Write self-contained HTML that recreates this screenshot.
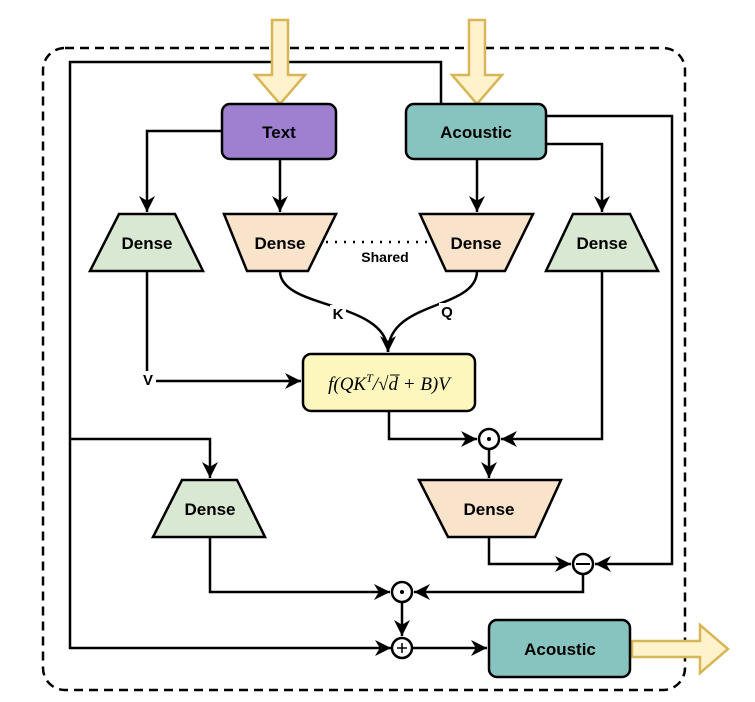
<!DOCTYPE html>
<html><head><meta charset="utf-8"><style>
html,body{margin:0;padding:0;background:#fff;width:755px;height:702px;overflow:hidden}
text{font-family:"Liberation Sans",sans-serif;font-weight:bold}
</style></head><body>
<svg width="755" height="702" viewBox="0 0 755 702" xmlns="http://www.w3.org/2000/svg">
<defs>
<marker id="b" viewBox="0 0 10 10" refX="10" refY="5" markerWidth="16" markerHeight="16" orient="auto" markerUnits="userSpaceOnUse">
<path d="M0,0 L10,5 L0,10 L3,5 Z" fill="#000"/></marker>
</defs>
<rect x="43" y="48" width="642" height="642" rx="22" fill="none" stroke="#000" stroke-width="2.5" stroke-dasharray="9,6"/>
<g fill="none" stroke="#000" stroke-width="2.5">
<path d="M441,103 V62 H70 V648 H391" marker-end="url(#b)"/>
<path d="M70,439 H210 V478" marker-end="url(#b)"/>
<path d="M222,131 H147 V212" marker-end="url(#b)"/>
<path d="M280,159 V212" marker-end="url(#b)"/>
<path d="M477,159 V212" marker-end="url(#b)"/>
<path d="M546,144 H602 V212" marker-end="url(#b)"/>
<path d="M546,116 H672 V564 H595" marker-end="url(#b)"/>
<path d="M280,271 C280,310 388,300 388,352" marker-end="url(#b)"/>
<path d="M477,271 C477,310 388,300 388,352"/>
<path d="M147,271 V381 H301" marker-end="url(#b)"/>
<path d="M389,411 V439 H477" marker-end="url(#b)"/>
<path d="M602,271 V439 H501" marker-end="url(#b)"/>
<path d="M489,450 V478" marker-end="url(#b)"/>
<path d="M489,537 V564 H571" marker-end="url(#b)"/>
<path d="M583,575 V592 H414" marker-end="url(#b)"/>
<path d="M210,537 V592 H390" marker-end="url(#b)"/>
<path d="M402,603 V636" marker-end="url(#b)"/>
<path d="M413,648 H487" marker-end="url(#b)"/>
</g>
<line x1="326" y1="242" x2="427" y2="242" stroke="#000" stroke-width="2.5" stroke-dasharray="2,7"/>
<path d="M272,20 H288 V75 H305 L280,104 L255,75 H272 Z" fill="#fff2cc" stroke="#d6b656" stroke-width="2.5"/>
<path d="M469,20 H485 V75 H502 L477,104 L452,75 H469 Z" fill="#fff2cc" stroke="#d6b656" stroke-width="2.5"/>
<path d="M632,641 H700 V625 L728,649 L700,673 V657 H632 Z" fill="#fff2cc" stroke="#d6b656" stroke-width="2.5"/>
<rect x="222" y="104" width="114" height="55" rx="8" fill="#9f7fcf" stroke="#000" stroke-width="2.5"/>
<text x="279" y="138" font-size="17" text-anchor="middle">Text</text>
<rect x="406" y="104" width="140" height="55" rx="8" fill="#88c4bf" stroke="#000" stroke-width="2.5"/>
<text x="476" y="138" font-size="17" text-anchor="middle">Acoustic</text>
<rect x="489" y="620" width="141" height="57" rx="8" fill="#88c4bf" stroke="#000" stroke-width="2.5"/>
<text x="560" y="655" font-size="17" text-anchor="middle">Acoustic</text>
<rect x="303" y="354" width="172" height="57" rx="8" fill="#fdf7bd" stroke="#000" stroke-width="2.5"/>
<text x="389" y="390" font-size="19" text-anchor="middle" style="font-family:'Liberation Serif',serif;font-weight:normal;font-style:italic">f(QK<tspan font-size="12" dy="-8">T</tspan><tspan dy="8">/√d̅ + B)V</tspan></text>
<g stroke="#000" stroke-width="2.5">
<path d="M119,214 H175 L203,271 H90 Z" fill="#d9e8d3"/>
<path d="M573,214 H630 L658,271 H546 Z" fill="#d9e8d3"/>
<path d="M182,480 H237 L265,537 H153 Z" fill="#d9e8d3"/>
<path d="M224,214 H336 L308,271 H247 Z" fill="#f9e4cb"/>
<path d="M420,214 H533 L505,271 H446 Z" fill="#f9e4cb"/>
<path d="M419,480 H561 L535,537 H448 Z" fill="#f9e4cb"/>
</g>
<g font-size="17" text-anchor="middle">
<text x="147" y="249">Dense</text>
<text x="280" y="249">Dense</text>
<text x="476" y="249">Dense</text>
<text x="602" y="249">Dense</text>
<text x="210" y="515">Dense</text>
<text x="489" y="515">Dense</text>
</g>
<text x="385" y="262" font-size="14" text-anchor="middle">Shared</text>
<rect x="330" y="305" width="16" height="16" fill="#fff"/>
<text x="338" y="319" font-size="15" text-anchor="middle">K</text>
<rect x="439" y="303" width="16" height="16" fill="#fff"/>
<text x="447" y="317" font-size="15" text-anchor="middle">Q</text>
<rect x="140" y="371" width="16" height="18" fill="#fff"/>
<text x="148" y="385" font-size="15" text-anchor="middle">V</text>
<g fill="#fff" stroke="#000" stroke-width="2.5">
<circle cx="489" cy="439" r="10"/><circle cx="583" cy="564" r="10"/>
<circle cx="402" cy="592" r="10"/><circle cx="402" cy="648" r="10"/>
</g>
<circle cx="489" cy="439" r="2" fill="#000"/>
<circle cx="402" cy="592" r="2" fill="#000"/>
<line x1="576" y1="564" x2="590" y2="564" stroke="#000" stroke-width="2"/>
<line x1="397" y1="648" x2="407" y2="648" stroke="#000" stroke-width="1.5"/>
<line x1="402" y1="643" x2="402" y2="653" stroke="#000" stroke-width="1.5"/>
</svg>
</body></html>
